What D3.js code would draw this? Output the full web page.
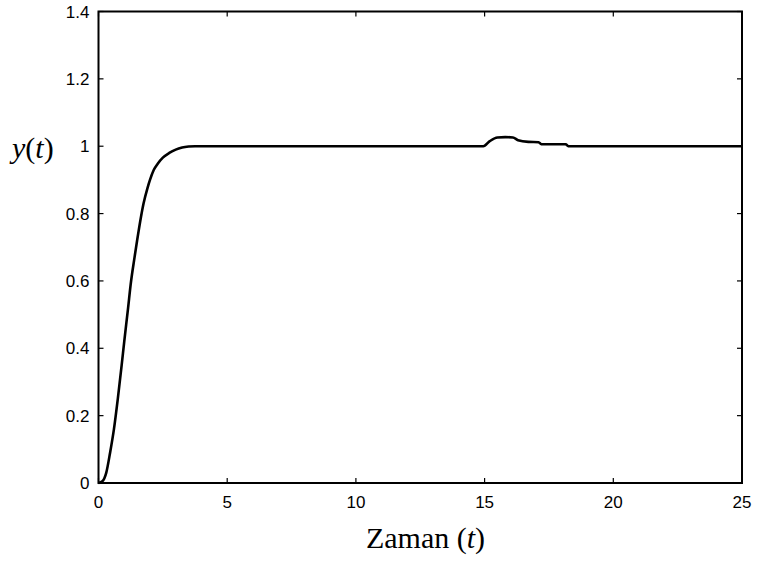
<!DOCTYPE html>
<html>
<head>
<meta charset="utf-8">
<script src="https://cdn.jsdelivr.net/npm/d3@7"></script>
<style>
  body { margin: 0; background: #fff; }
  svg { display: block; }
</style>
</head>
<body>
<svg id="chart" width="757" height="561"></svg>
<script>
// time (s) and response y(t)
var times = [0, 0.15, 0.3, 0.45, 0.6, 0.75, 0.9, 1.0, 1.15, 1.25, 1.4, 1.5, 1.65, 1.75, 1.9, 2.0, 2.15, 2.3, 2.5, 2.75, 3.0, 3.25, 3.5, 3.75, 4.0,
             10, 14.95, 15.2, 15.5, 15.8, 16.1, 16.3, 16.7, 17.1, 17.2, 18.15, 18.25, 25];
var values = [0, 0.005, 0.03, 0.09, 0.16, 0.25, 0.35, 0.42, 0.52, 0.59, 0.67, 0.72, 0.79, 0.83, 0.875, 0.90, 0.93, 0.948, 0.966, 0.98, 0.99, 0.996, 0.999, 1.0, 1.0,
              1.0, 1.0, 1.015, 1.026, 1.027, 1.026, 1.018, 1.013, 1.012, 1.006, 1.006, 1.0, 1.0];
var xTicks = [0, 5, 10, 15, 20, 25];
var yTicks = [0, 0.2, 0.4, 0.6, 0.8, 1, 1.2, 1.4];

var margin = { left: 98.5, right: 15, top: 11.5, bottom: 78 },
    width = 757, height = 561;

var svg = d3.select("#chart");

var x = d3.scaleLinear().domain([0, 25]).range([margin.left, width - margin.right]);
var y = d3.scaleLinear().domain([0, 1.4]).range([height - margin.bottom, margin.top]);

var tickLen = 5;

// ticks inside on all four sides
var g = svg.append("g").attr("stroke", "#000").attr("stroke-width", 1.2);
xTicks.forEach(function(t) {
    g.append("line").attr("x1", x(t)).attr("x2", x(t)).attr("y1", y(0)).attr("y2", y(0) - tickLen);
    g.append("line").attr("x1", x(t)).attr("x2", x(t)).attr("y1", y(1.4)).attr("y2", y(1.4) + tickLen);
});
yTicks.forEach(function(v) {
    g.append("line").attr("x1", x(0)).attr("x2", x(0) + tickLen).attr("y1", y(v)).attr("y2", y(v));
    g.append("line").attr("x1", x(25)).attr("x2", x(25) - tickLen).attr("y1", y(v)).attr("y2", y(v));
});

// frame
svg.append("rect")
    .attr("x", x(0)).attr("y", y(1.4))
    .attr("width", x(25) - x(0)).attr("height", y(0) - y(1.4))
    .attr("fill", "none").attr("stroke", "#000").attr("stroke-width", 2);

// tick labels
svg.selectAll(".xl").data(xTicks).enter().append("text")
    .attr("x", function(d) { return x(d); })
    .attr("y", y(0) + 25)
    .attr("text-anchor", "middle")
    .style("font-family", "'Liberation Sans', Arial, sans-serif")
    .style("font-size", "17px")
    .text(function(d) { return d; });

svg.selectAll(".yl").data(yTicks).enter().append("text")
    .attr("x", x(0) - 9)
    .attr("y", function(d) { return y(d) + 6; })
    .attr("text-anchor", "end")
    .style("font-family", "'Liberation Sans', Arial, sans-serif")
    .style("font-size", "17px")
    .text(function(d) { return d; });

// the response curve
var line = d3.line()
    .x(function(d, i) { return x(times[i]); })
    .y(function(d) { return y(d); })
    .curve(d3.curveMonotoneX);

svg.append("path")
    .datum(values)
    .attr("d", line)
    .attr("fill", "none")
    .attr("stroke", "#000")
    .attr("stroke-width", 2.6)
    .attr("stroke-linejoin", "round");

// axis labels
var xl = svg.append("text")
    .attr("x", 425.5).attr("y", 548)
    .attr("text-anchor", "middle")
    .style("font-family", "'Liberation Serif', 'Times New Roman', serif")
    .style("font-size", "30px");
xl.append("tspan").text("Zaman (");
xl.append("tspan").style("font-style", "italic").text("t");
xl.append("tspan").text(")");

var yl = svg.append("text")
    .attr("x", 12).attr("y", 158)
    .style("font-family", "'Liberation Serif', 'Times New Roman', serif")
    .style("font-size", "30px");
yl.append("tspan").style("font-style", "italic").text("y");
yl.append("tspan").text("(");
yl.append("tspan").style("font-style", "italic").text("t");
yl.append("tspan").text(")");
</script>
</body>
</html>
